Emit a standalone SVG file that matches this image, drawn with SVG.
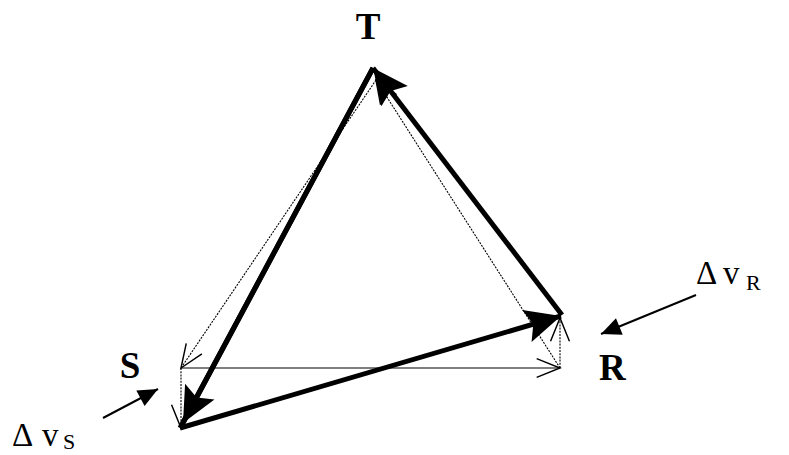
<svg xmlns="http://www.w3.org/2000/svg" width="789" height="455" viewBox="0 0 789 455">
<style>
.thick{fill:none;stroke:#000;stroke-width:5;stroke-linecap:butt}
.thin{fill:none;stroke:#000;stroke-width:1.1;stroke-dasharray:2 1.2}
.solid{fill:none;stroke:#000;stroke-width:1.1}
.small{fill:none;stroke:#000;stroke-width:2}
.lbl{font-family:"Liberation Serif","Times New Roman",serif;font-weight:bold;font-size:37px;fill:#000}
.dv{font-family:"Liberation Serif","Times New Roman",serif;font-size:33px;fill:#000}
.sub{font-size:22px}
</style>
<defs>
<marker id="big" markerUnits="userSpaceOnUse" markerWidth="40" markerHeight="40" refX="0" refY="0" viewBox="-34 -16 36 32" orient="auto" overflow="visible">
<path d="M0,0 L-32,-15 L-26,0 L-32,15 Z" fill="#000"/>
</marker>
<marker id="open" markerUnits="userSpaceOnUse" markerWidth="30" markerHeight="30" refX="0" refY="0" viewBox="-25 -12 27 24" orient="auto" overflow="visible">
<path d="M-21,-8.5 L0,0 L-21,8.5" fill="none" stroke="#000" stroke-width="1.3"/>
</marker>
<marker id="sm" markerUnits="userSpaceOnUse" markerWidth="24" markerHeight="24" refX="0" refY="0" viewBox="-21 -10 23 20" orient="auto" overflow="visible">
<path d="M0,0 L-19,-8.5 L-19,8.5 Z" fill="#000"/>
</marker>
</defs>
<g id="connectors">
<path class="thin" d="M376,80 L181,368" marker-end="url(#open)"/>
<path class="solid" d="M181,368 L560,368" marker-end="url(#open)"/>
<path class="thin" d="M560,368 L376,80" marker-end="url(#open)"/>
<path class="thin" d="M560,368 L560,318" marker-end="url(#open)"/>
<path class="thin" d="M181,368 L181,428" marker-end="url(#open)"/>
<path class="thick" d="M562,315 L373,68" marker-end="url(#big)"/>
<path class="thick" d="M373,68 L180,428"/>
<path class="thick" d="M373,68 L183,423" marker-end="url(#big)"/>
<path class="thick" d="M180,428 L561,316" marker-end="url(#big)"/>
<path class="small" d="M696,295 L601,334" marker-end="url(#sm)"/>
<path class="small" d="M103,418 L158,389" marker-end="url(#sm)"/>
</g>
<g id="T"><text class="lbl" x="368" y="39" text-anchor="middle">T</text></g>
<g id="R"><text class="lbl" x="599" y="380">R</text></g>
<g id="S"><text class="lbl" x="130" y="378" text-anchor="middle">S</text></g>
<g id="dvR"><text class="dv" x="696" y="284">Δ<tspan x="723">v</tspan><tspan class="sub" x="746" y="290">R</tspan></text></g>
<g id="dvS"><text class="dv" x="12" y="446">Δ<tspan x="42">v</tspan><tspan class="sub" x="63" y="449">S</tspan></text></g>
</svg>
